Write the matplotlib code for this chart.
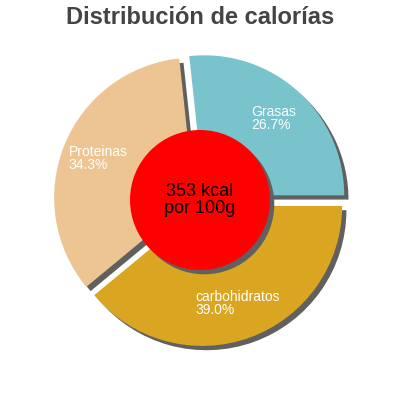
import matplotlib.pyplot as plt
import matplotlib.patches as mpatches

# values
labels = ["Grasas", "Proteinas", "carbohidratos"]
percent = [26.7, 34.3, 39.0]
colors = ["#79c3cc", "#edc592", "#daa520"]
kcal = 353

plt.rcParams['font.family'] = ['Liberation Sans', 'DejaVu Sans']

fig = plt.figure(figsize=(4, 4), dpi=100)
ax = fig.add_axes([0, 0, 1, 1])

shadow = {'ox': 0.022, 'oy': -0.022, 'facecolor': '#606060',
          'edgecolor': 'none', 'alpha': 1}
wedges, texts = ax.pie(percent, colors=colors, startangle=0, counterclock=True,
                       explode=[0.045] * len(percent), shadow=shadow,
                       labels=[f"{l}\n{p:.1f}%" for l, p in zip(labels, percent)],
                       labeldistance=0.74, wedgeprops={'linewidth': 0},
                       textprops={'color': 'white', 'fontsize': 10})
for t in texts:
    t.set_ha('center')
    t.set_va('center')
    t.set_multialignment('left')
    t.set_linespacing(0.95)

circle = mpatches.Circle((0, 0), 0.5, facecolor='#ff0000', edgecolor='none', zorder=5)
ax.add_patch(circle)
ax.add_patch(mpatches.Shadow(circle, 0.022, -0.022, facecolor='#606060',
                             edgecolor='none', alpha=1))
ax.text(0, 0, f"{kcal} kcal\npor 100g", ha='center', va='center', fontsize=13,
        color='black', zorder=6, linespacing=1.0)

lim = 200 / 140
ax.set_xlim(-lim, lim)
ax.set_ylim(-lim, lim)
ax.set_aspect('equal')
ax.axis('off')

fig.text(0.5, 0.955, "Distribución de calorías", ha='center', va='center',
         fontsize=17, fontweight='bold', color='#444444')

fig.savefig("out.png", dpi=100)
